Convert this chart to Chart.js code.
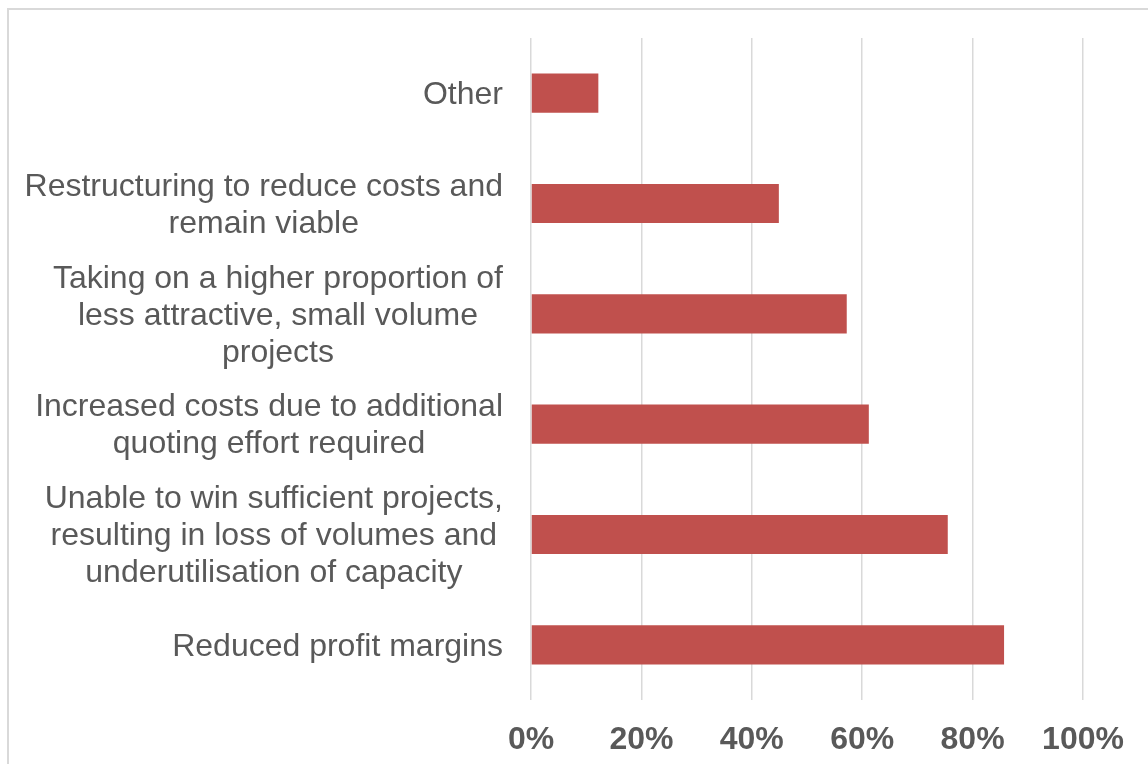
<!DOCTYPE html>
<html>
<head>
<meta charset="utf-8">
<script src="https://cdn.jsdelivr.net/npm/chart.js@4/dist/chart.umd.min.js"></script>
<style>
  html, body { margin: 0; padding: 0; background: #ffffff; overflow: hidden; }
  #wrap { position: relative; width: 1148px; height: 764px; }
  #frame { position: absolute; left: 7px; top: 8px; width: 1300px; height: 900px; border: 2px solid #d9d9d9; box-sizing: border-box; }
  canvas { position: absolute; left: 0; top: 0; }
</style>
</head>
<body>
<div id="wrap">
  <div id="frame"></div>
  <canvas id="c" width="1148" height="764"></canvas>
</div>
<script>
const categories = [
  ["Other"],
  ["Restructuring to reduce costs and", "remain viable"],
  ["Taking on a higher proportion of", "less attractive, small volume", "projects"],
  ["Increased costs due to additional", "quoting effort required"],
  ["Unable to win sufficient projects,", "resulting in loss of volumes and", "underutilisation of capacity"],
  ["Reduced profit margins"]
];
const values = [12.2, 44.9, 57.2, 61.2, 75.5, 85.7];
const xTicks = [0, 20, 40, 60, 80, 100];

const FONT = '"Liberation Sans", Arial, sans-serif';
const TEXT = '#595959';

const yLabelPlugin = {
  id: 'yLabels',
  afterDraw(chart) {
    const ctx = chart.ctx;
    const yScale = chart.scales.y;
    const rightEdge = chart.chartArea.left - 28;
    const lh = 37;
    ctx.save();
    ctx.font = '32px ' + FONT;
    ctx.fillStyle = TEXT;
    ctx.textAlign = 'center';
    ctx.textBaseline = 'middle';
    categories.forEach((lines, i) => {
      const cy = yScale.getPixelForValue(i) + 2;
      const w = Math.max(...lines.map(l => ctx.measureText(l).width));
      const cx = rightEdge - w / 2;
      const top = cy - lines.length * lh / 2;
      lines.forEach((l, j) => {
        ctx.fillText(l, cx, top + lh * (j + 0.5));
      });
    });
    ctx.restore();
  }
};

new Chart(document.getElementById('c'), {
  type: 'bar',
  data: {
    labels: categories,
    datasets: [{
      data: values,
      backgroundColor: '#C0504D',
      borderWidth: 0,
      barPercentage: 0.355,
      categoryPercentage: 1.0
    }]
  },
  options: {
    indexAxis: 'y',
    responsive: false,
    animation: false,
    events: [],
    layout: { padding: { left: 0, top: 38, right: 65, bottom: 0 } },
    plugins: { legend: { display: false }, tooltip: { enabled: false } },
    scales: {
      x: {
        min: 0, max: 100,
        afterBuildTicks(scale) { scale.ticks = xTicks.map(v => ({ value: v })); },
        afterFit(scale) { scale.height = 64; },
        grid: { color: '#d9d9d9', lineWidth: 1.5, drawTicks: false },
        border: { display: false },
        ticks: {
          padding: 21,
          color: TEXT,
          font: { family: FONT, size: 32, weight: 'bold' },
          maxRotation: 0,
          callback: v => v + '%'
        }
      },
      y: {
        afterFit(scale) { scale.width = 531; },
        grid: { display: false },
        border: { display: false },
        ticks: { display: false }
      }
    }
  },
  plugins: [yLabelPlugin]
});
</script>
</body>
</html>
